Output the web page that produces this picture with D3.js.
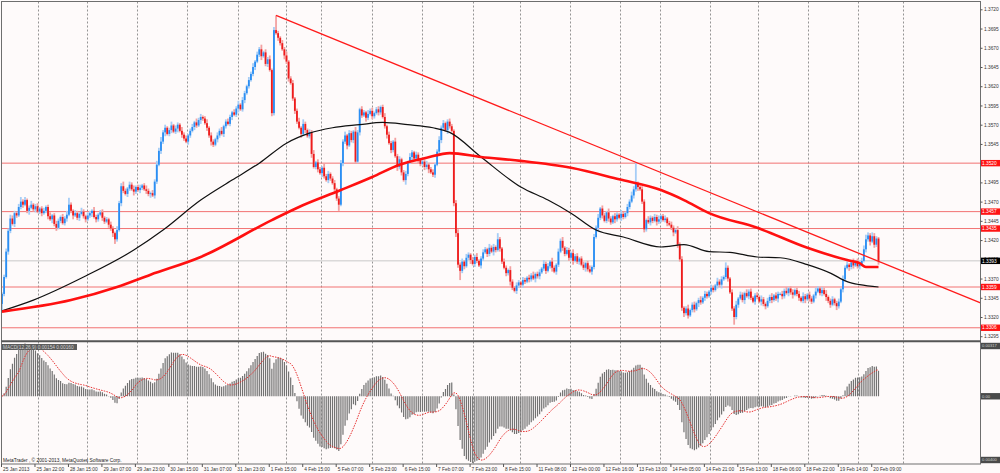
<!DOCTYPE html>
<html>
<head>
<meta charset="utf-8">
<script src="https://cdn.jsdelivr.net/npm/d3@7"></script>
<style>
  html, body { margin: 0; padding: 0; background: #fefafa; }
  svg { display: block; font-family: "Liberation Sans", Arial, sans-serif; }
</style>
</head>
<body>
<svg id="chart" width="1000" height="473"></svg>
<script>
// EURUSD H1, closes in pips above 1.3000 (bar 0 = 25 Jan 2013)
const closes = [
  350,372,405,432,448,441,455,452,463,470,
  466,472,458,462,466,460,464,457,461,455,
  458,463,451,447,452,441,436,445,450,442,
  448,453,466,458,452,455,449,454,457,451,
  447,452,455,458,450,447,453,456,449,444,
  447,440,435,429,421,433,468,490,484,480,
  487,492,486,483,489,485,488,491,486,484,
  480,481,478,496,518,536,548,560,566,558,
  563,569,561,565,570,562,557,552,548,556,
  562,567,573,569,576,580,578,572,566,556,
  548,544,551,556,562,558,568,574,571,580,
  586,583,591,596,590,602,611,620,628,636,
  645,652,661,668,659,664,649,655,641,585,
  693,689,683,676,668,660,652,630,624,604,
  588,574,566,558,571,563,555,560,532,515,
  521,512,507,514,503,498,506,500,494,486,
  474,466,520,548,556,543,559,550,561,522,
  560,590,582,586,579,584,588,581,585,590,
  586,593,580,568,557,546,537,548,529,515,
  525,508,498,506,521,528,534,526,531,524,
  519,522,515,518,512,508,505,518,535,550,
  566,572,563,574,568,562,468,429,388,380,
  392,386,397,401,394,389,398,393,387,396,
  404,408,402,410,405,411,407,421,409,392,
  384,377,381,366,358,354,361,365,362,368,
  366,371,369,374,370,376,373,378,383,389,
  380,386,392,384,379,388,405,419,410,402,
  407,397,403,393,399,392,396,388,384,390,
  382,379,385,424,436,449,461,452,445,456,
  448,443,451,447,453,449,454,450,455,463,
  470,478,486,493,489,486,470,434,446,443,
  449,445,450,444,447,451,446,448,442,440,
  436,430,433,414,395,332,325,331,322,329,
  336,330,338,342,339,345,350,347,353,358,
  355,361,366,362,369,372,384,370,352,331,
  320,336,344,349,342,351,347,353,345,340,
  348,346,340,343,337,334,341,346,342,348,
  344,350,350,347,354,351,357,352,349,355,
  350,345,341,347,343,349,344,340,348,353,
  357,351,355,350,346,341,336,343,338,334,
  340,356,369,384,388,385,391,387,392,386,
  389,393,408,421,426,418,425,414,422,393
];
const firstOpen = 337;

// wick lengths in pips above / below the body
const wickHi = [
  2,3,4,3,5,4,3,2,4,6, 3,4,2,3,5,2,3,4,2,3, 4,2,3,5,2,3,4,3,2,4, 3,5,9,3,2,4,3,2,5,3,
  2,4,3,2,5,3,2,3,4,2, 3,2,4,3,2,5,3,4,6,3, 2,4,3,5,2,3,4,2,3,5, 3,2,4,3,5,4,6,3,4,2,
  3,5,2,4,3,2,5,3,4,2, 3,4,2,5,3,4,2,3,5,2, 4,3,2,4,3,5,2,3,4,3, 2,4,3,5,2,4,3,2,4,3,
  5,2,4,3,6,2,4,3,5,2, 4,19,3,2,4,3,5,2,3,4, 2,3,5,2,6,3,2,4,3,5, 2,4,3,2,5,3,4,2,3,4,
  2,3,4,3,5,2,4,3,2,6, 3,2,4,3,2,5,3,4,2,3, 4,2,3,5,2,4,3,2,5,3, 4,2,3,4,2,5,3,2,4,3,
  2,4,3,5,2,3,4,2,3,5, 3,4,2,3,4,3,2,4,5,3, 4,2,5,3,2,4,3,5,2,3, 4,3,2,5,3,4,2,8,3,2,
  4,3,2,5,3,2,4,3,2,4, 3,2,4,3,5,2,3,4,2,5, 3,4,2,5,3,2,4,3,5,2, 4,3,2,5,3,4,2,3,4,2,
  3,5,2,4,3,5,2,4,3,2, 5,3,2,4,3,2,5,3,2,4, 3,5,4,27,3,2,4,3,2,5, 3,2,4,3,5,2,3,4,2,3,
  4,3,2,5,3,4,2,3,5,2, 3,4,2,3,5,2,4,3,2,4, 3,2,5,3,4,2,7,3,2,4, 3,5,2,4,3,2,5,3,4,2,
  3,4,2,5,3,2,4,3,5,2, 4,3,2,4,3,5,2,3,4,2, 3,4,2,5,3,2,4,3,2,5, 3,2,4,3,5,2,3,4,2,3,
  4,2,5,3,4,2,3,5,2,4, 3,4,5,6,4,3,5,4,3,2
];
const wickLo = [
  8,3,2,4,3,2,4,3,2,3, 4,2,3,5,2,3,4,2,3,4, 2,3,4,2,5,3,4,2,3,2, 3,4,2,3,5,2,3,4,2,3,
  4,2,3,5,2,4,3,2,4,3, 2,4,3,5,6,3,2,4,3,2, 4,3,2,5,3,2,4,3,2,4, 3,5,2,4,3,2,4,3,5,2,
  3,4,2,3,5,2,4,3,2,4, 3,2,4,3,2,5,3,2,4,3, 5,3,2,4,3,2,4,3,2,3, 4,2,3,5,2,3,4,2,3,2,
  3,4,2,3,5,2,3,4,2,4, 3,2,4,3,2,5,3,4,2,3, 4,3,2,5,3,4,2,3,5,2, 3,4,2,5,3,2,4,3,2,4,
  3,8,2,4,3,5,2,3,4,3, 2,4,3,2,5,3,2,4,3,2, 4,3,2,3,5,2,4,3,2,5, 3,4,2,6,3,2,4,3,2,4,
  3,2,4,3,5,2,3,4,2,3, 4,3,2,5,3,2,4,5,4,12, 3,4,2,3,5,2,4,3,2,4, 3,2,4,3,2,5,3,2,4,3,
  2,4,3,5,3,2,4,3,2,4, 3,2,4,3,2,5,3,4,2,3, 4,2,3,5,2,4,3,2,4,3, 2,4,3,5,2,3,4,2,3,5,
  3,2,4,3,2,5,3,4,2,3, 4,3,2,5,3,2,4,3,2,4, 3,2,4,3,5,2,3,4,3,2, 4,3,2,5,3,4,2,3,4,2,
  3,5,2,4,3,4,5,3,4,2, 3,4,2,5,3,2,4,3,2,4, 3,2,4,3,5,2,3,4,2,3, 10,3,4,2,3,5,2,4,3,2,
  4,3,2,5,3,4,2,3,4,2, 3,5,2,4,3,2,4,3,5,2, 3,4,2,3,5,2,4,3,2,4, 2,3,4,2,5,3,4,2,3,5,
  3,2,4,3,2,5,3,4,2,3, 4,3,2,4,3,5,2,4,3,5
];

// moving averages: [bar, pips above 1.3000]
const blackMA = [
  [0,328],[15,342],[39,372],[63,407],[77,433],[95,472],[110,498],[123,520],[136,546],
  [147,559],[158,566],[171,570],[182,573],[194,570],[206,566],[214,560],[229,528],
  [248,489],[261,472],[272,455],[284,433],[297,424],[315,411],[326,414],[338,405],
  [348,404],[361,398],[372,397],[385,388],[396,377],[404,366],[410,362],[419,359]
];
const redMA = [
  [0,327],[33,342],[55,359],[71,375],[95,398],[129,446],[142,463],[162,485],[177,502],
  [190,518],[203,527],[214,533],[229,528],[248,523],[272,514],[295,499],[315,485],
  [326,472],[338,455],[361,436],[385,410],[404,394],[410,390],[413,385],[419,385]
];

const levels = [1.3520, 1.3457, 1.3435, 1.3359, 1.3306];
const bid = 1.3393;
const trend = [[131, 1.3712], [304, 1.3520]];

const priceTicks = [1.3720, 1.3695, 1.3670, 1.3645, 1.3620, 1.3595, 1.3570, 1.3545, 1.3520,
  1.3495, 1.3470, 1.3445, 1.3420, 1.3395, 1.3370, 1.3345, 1.3320, 1.3295];
const gridBars = [17, 40.5, 64.5, 88.5, 113, 136, 152.5, 177, 201, 225, 247.5, 271.5,
  295.5, 314.5, 338.5, 361.5, 385.5, 409, 430.5];
const timeLabels = ["25 Jan 2013", "25 Jan 22:00", "28 Jan 15:00", "29 Jan 07:00", "29 Jan 23:00",
  "30 Jan 15:00", "31 Jan 07:00", "31 Jan 23:00", "1 Feb 15:00", "4 Feb 15:00", "5 Feb 07:00",
  "5 Feb 23:00", "6 Feb 15:00", "7 Feb 07:00", "7 Feb 23:00", "8 Feb 15:00", "11 Feb 08:00",
  "12 Feb 00:00", "12 Feb 16:00", "13 Feb 13:00", "14 Feb 05:00", "14 Feb 21:00", "15 Feb 13:00",
  "18 Feb 06:00", "18 Feb 22:00", "19 Feb 14:00", "20 Feb 09:00"];
const labelStep = 16;

let frame = {left: 1.5, right: 980.5, top: 1.5, mainBottom: 340, macdTop: 342.5, bottom: 464},
  fontSize = 4.8,
  colors = {
    upBody: "#2b8ef3", upWick: "#a6cdf6",
    downBody: "#ee1c1c", downWick: "#f3a1a1",
    level: "#f27272", bid: "#c8c8c8", grid: "#7a7a7a", frame: "#6e6e6e"
  }

let pip = v => 1.3 + v / 10000;

let bars = closes.map((c, i) => {
  let o = i == 0 ? firstOpen : closes[i - 1];
  return {
    i: i, o: pip(o), c: pip(c),
    h: pip(Math.max(o, c) + wickHi[i]),
    l: pip(Math.min(o, c) - wickLo[i])
  }
});

let x = d3.scaleLinear().domain([0, 419]).range([2, 878.5]);
let y = d3.scaleLinear().domain([1.32901, 1.37308]).range([frame.mainBottom, 1]);

// MACD(12,26,9) as MetaTrader draws it: EMA difference + SMA signal
function ema(values, n) {
  let k = 2 / (n + 1), prev = values[0];
  return values.map((v, i) => prev = i == 0 ? v : v * k + prev * (1 - k));
}
let e12 = ema(bars.map(d => d.c), 12),
  e26 = ema(bars.map(d => d.c), 26);
let macd = e12.map((v, i) => v - e26[i]);
let signal = macd.map((v, i) => d3.mean(macd.slice(Math.max(0, i - 8), i + 1)));
let ym = d3.scaleLinear()
  .domain(d3.extent(macd.concat(signal)))
  .range([frame.bottom - 1, frame.macdTop + 1]);

let svg = d3.select("#chart");
let defs = svg.append("defs");
defs.append("clipPath").attr("id", "mainClip").append("rect")
  .attr("x", frame.left).attr("y", frame.top)
  .attr("width", frame.right - frame.left).attr("height", frame.mainBottom - frame.top);
defs.append("clipPath").attr("id", "macdClip").append("rect")
  .attr("x", frame.left).attr("y", frame.macdTop)
  .attr("width", frame.right - frame.left).attr("height", frame.bottom - frame.macdTop);

// vertical grid
svg.append("g").selectAll("line")
  .data(gridBars).enter()
  .append("line")
  .attr("x1", d => Math.round(x(d)) + 0.5).attr("x2", d => Math.round(x(d)) + 0.5)
  .attr("y1", frame.top).attr("y2", frame.bottom)
  .attr("stroke", colors.grid).attr("stroke-width", 0.8)
  .attr("stroke-dasharray", "2,2");

let main = svg.append("g").attr("clip-path", "url(#mainClip)");

main.selectAll("line.level")
  .data(levels).enter()
  .append("line").attr("class", "level")
  .attr("x1", frame.left).attr("x2", frame.right)
  .attr("y1", d => y(d)).attr("y2", d => y(d))
  .attr("stroke", colors.level).attr("stroke-width", 1);

main.append("line")
  .attr("x1", frame.left).attr("x2", frame.right)
  .attr("y1", y(bid)).attr("y2", y(bid))
  .attr("stroke", colors.bid).attr("stroke-width", 1);

// candles
let candle = main.append("g").selectAll("g")
  .data(bars).enter().append("g");
candle.append("rect")
  .attr("x", d => x(d.i) - 0.9).attr("width", 1.8)
  .attr("y", d => y(d.h)).attr("height", d => Math.max(1, y(d.l) - y(d.h)))
  .attr("fill", d => d.c >= d.o ? colors.upWick : colors.downWick);
candle.append("rect")
  .attr("x", d => x(d.i) - 0.9).attr("width", 1.8)
  .attr("y", d => y(Math.max(d.o, d.c)))
  .attr("height", d => Math.max(1, Math.abs(y(d.o) - y(d.c))))
  .attr("fill", d => d.c >= d.o ? colors.upBody : colors.downBody);

// moving averages
let maLine = d3.line()
  .x(d => x(d[0]))
  .y(d => y(pip(d[1])))
  .curve(d3.curveMonotoneX);
main.append("path").datum(blackMA)
  .attr("d", maLine).attr("fill", "none")
  .attr("stroke", "#111").attr("stroke-width", 1.2);
main.append("path").datum(redMA)
  .attr("d", maLine).attr("fill", "none")
  .attr("stroke", "#ff1010").attr("stroke-width", 2.6);

// trend ray, extended to the right edge
let slope = (trend[1][1] - trend[0][1]) / (trend[1][0] - trend[0][0]);
let endBar = x.invert(frame.right);
main.append("line")
  .attr("x1", x(trend[0][0])).attr("y1", y(trend[0][1]))
  .attr("x2", x(endBar)).attr("y2", y(trend[0][1] + slope * (endBar - trend[0][0])))
  .attr("stroke", "#ff1a1a").attr("stroke-width", 1.3);

// MACD panel
let sub = svg.append("g").attr("clip-path", "url(#macdClip)");
sub.append("g").selectAll("line")
  .data(macd).enter()
  .append("line")
  .attr("x1", (d, i) => x(i)).attr("x2", (d, i) => x(i))
  .attr("y1", ym(0)).attr("y2", d => ym(d))
  .attr("stroke", "#727272").attr("stroke-width", 1.2);
sub.append("path").datum(signal)
  .attr("d", d3.line().x((d, i) => x(i)).y(d => ym(d)))
  .attr("fill", "none").attr("stroke", "#e52b2b")
  .attr("stroke-width", 1).attr("stroke-dasharray", "1.5,1.2");

// frame
let border = svg.append("g").attr("stroke", colors.frame).attr("fill", "none");
border.append("rect")
  .attr("x", frame.left).attr("y", frame.top)
  .attr("width", frame.right - frame.left).attr("height", frame.bottom - frame.top)
  .attr("stroke-width", 1);
border.append("line")
  .attr("x1", frame.left).attr("x2", frame.right)
  .attr("y1", frame.mainBottom + 1.2).attr("y2", frame.mainBottom + 1.2)
  .attr("stroke", "#555").attr("stroke-width", 2);

// price axis
let yAxis = d3.axisRight(y)
  .tickValues(priceTicks)
  .tickSize(2).tickPadding(1.5)
  .tickFormat(d3.format(".4f"));
let yg = svg.append("g")
  .attr("transform", `translate(${frame.right}, 0)`)
  .call(yAxis);
yg.select(".domain").remove();
yg.selectAll("line").attr("stroke", "#555");
yg.selectAll("text").attr("font-size", fontSize).attr("fill", "#333");

// time axis
let xAxis = d3.axisBottom(x)
  .tickValues(timeLabels.map((d, k) => k * labelStep))
  .tickFormat((d, k) => timeLabels[k])
  .tickSize(3).tickPadding(1);
let xg = svg.append("g")
  .attr("transform", `translate(0, ${frame.bottom})`)
  .call(xAxis);
xg.select(".domain").remove();
xg.selectAll("line").attr("stroke", "#555").attr("transform", "translate(-1,0)");
xg.selectAll("text").attr("font-size", fontSize).attr("fill", "#333")
  .attr("text-anchor", "start").attr("dx", 0.5);

// price labels of the lines
function tag(value, text, fill, textFill, scale, size) {
  let g = svg.append("g");
  g.append("rect")
    .attr("x", frame.right + 0.5).attr("y", scale(value) - 3.2)
    .attr("width", 19.5).attr("height", 6.4).attr("fill", fill);
  g.append("text")
    .attr("x", frame.right + 1.5).attr("y", scale(value)).attr("dy", "0.35em")
    .attr("font-size", size || fontSize).attr("fill", textFill).text(text);
}
levels.forEach(v => tag(v, d3.format(".4f")(v), "#ff1414", "#fff", y));
tag(bid, d3.format(".4f")(bid), "#000", "#fff", y);

let macdRange = ym.domain();
tag(macdRange[1], d3.format(".5f")(macdRange[1]), "#4a4a4a", "#cfcfcf", v => frame.macdTop + 3.5, 4.1);
tag(0, "0.00", "#4a4a4a", "#cfcfcf", ym, 4.1);
tag(macdRange[0], d3.format(".5f")(Math.abs(macdRange[0])), "#4a4a4a", "#cfcfcf", v => frame.bottom - 4, 4.1);

// indicator caption and copyright
let last = macd.length - 1;
svg.append("rect")
  .attr("x", 2).attr("y", frame.macdTop + 1.5).attr("width", 75).attr("height", 6)
  .attr("fill", "#5c5c5c");
svg.append("text")
  .attr("x", 3).attr("y", frame.macdTop + 4.5).attr("dy", "0.35em")
  .attr("font-size", fontSize).attr("fill", "#d0d0d0")
  .text(`MACD(12,26,9) ${d3.format(".5f")(macd[last])} ${d3.format(".5f")(signal[last])}`);
svg.append("text")
  .attr("x", 3).attr("y", frame.bottom - 2.5)
  .attr("font-size", fontSize).attr("fill", "#222")
  .text("MetaTrader , © 2001-2013, MetaQuotes Software Corp.");
</script>
</body>
</html>
